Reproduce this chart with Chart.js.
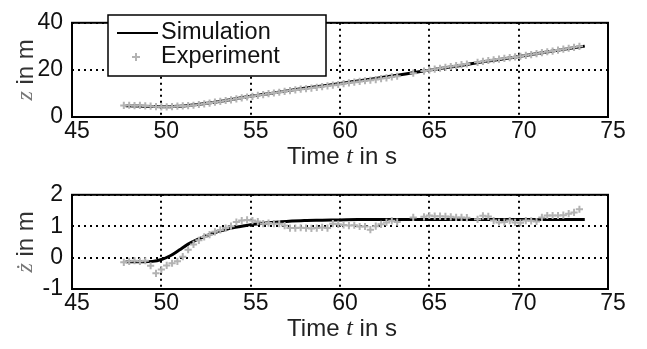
<!DOCTYPE html>
<html>
<head>
<meta charset="utf-8">
<script src="https://cdn.jsdelivr.net/npm/chart.js@4.4.0/dist/chart.umd.min.js"></script>
<style>
  body { margin: 0; background: #fff; }
  .panel { position: absolute; left: 0; width: 647px; height: 174px; }
</style>
</head>
<body>
<div class="panel" style="top:0"><canvas id="chart-z"></canvas></div>
<div class="panel" style="top:172px"><canvas id="chart-zdot"></canvas></div>
<script>
// Experiment samples
const expTime = [47.9, 48.2, 48.5, 48.8, 49.1, 49.4, 49.7, 50.0, 50.3, 50.6, 50.9, 51.2, 51.5, 51.8,
  52.1, 52.4, 52.7, 53.0, 53.3, 53.6, 53.9, 54.2, 54.5, 54.8, 55.1, 55.4, 55.7, 56.0, 56.3, 56.6,
  56.9, 57.2, 57.5, 57.8, 58.1, 58.4, 58.7, 59.0, 59.3, 59.6, 59.9, 60.2, 60.5, 60.8, 61.1, 61.4,
  61.7, 62.0, 62.3, 62.6, 62.9, 63.2, 64.1, 64.7, 65.0, 65.3, 65.6, 65.9, 66.2, 66.5, 66.8, 67.1,
  67.7, 68.0, 68.3, 68.6, 68.9, 69.2, 69.5, 69.8, 70.1, 70.4, 70.7, 71.0, 71.3, 71.6, 71.9, 72.2,
  72.5, 72.8, 73.1, 73.4];
const expZ = [4.9, 5.0, 4.8, 4.9, 4.7, 4.6, 4.4, 4.3, 4.3, 4.4, 4.6, 4.7, 4.8, 5.0,
  5.3, 5.6, 5.9, 6.3, 6.6, 7.0, 7.3, 7.7, 8.1, 8.5, 8.8, 9.2, 9.5, 9.9, 10.2, 10.5,
  10.9, 11.2, 11.5, 11.8, 12.0, 12.3, 12.6, 12.9, 13.2, 13.5, 13.8, 14.2, 14.5, 14.8, 15.1, 15.4,
  15.6, 15.9, 16.3, 16.6, 17.0, 17.3, 18.6, 19.5, 19.9, 20.3, 20.7, 21.1, 21.4, 21.8, 22.2, 22.5,
  23.2, 23.6, 24.0, 24.3, 24.6, 24.9, 25.2, 25.5, 25.8, 26.2, 26.5, 26.9, 27.3, 27.7, 28.0, 28.4,
  28.8, 29.2, 29.6, 30.0];
const expZdot = [-0.15, -0.12, -0.10, -0.12, -0.10, -0.26, -0.50, -0.38, -0.25, -0.18, -0.12, 0.03, 0.25, 0.42,
  0.55, 0.66, 0.73, 0.82, 0.88, 0.94, 1.00, 1.13, 1.18, 1.20, 1.18, 1.15, 1.08, 1.10, 1.08, 1.08,
  1.02, 0.94, 0.94, 0.95, 0.94, 0.93, 0.94, 0.96, 0.94, 1.08, 1.06, 1.04, 1.02, 1.03, 0.99, 0.99,
  0.89, 1.00, 1.06, 1.12, 1.17, 1.13, 1.28, 1.30, 1.34, 1.32, 1.32, 1.31, 1.30, 1.28, 1.28, 1.27,
  1.22, 1.33, 1.31, 1.18, 1.12, 1.13, 1.18, 1.12, 1.11, 1.18, 1.17, 1.15, 1.28, 1.34, 1.34, 1.34,
  1.35, 1.40, 1.44, 1.54];

// Simulation curve
const simTime = [48, 48.5, 49, 49.5, 50, 50.5, 51, 51.5, 52, 52.5, 53, 53.5, 54, 54.5, 55, 55.5,
  56, 57, 58, 59, 60, 61, 62, 63, 64, 65, 66, 67, 68, 69, 70, 71, 72, 73, 73.7];
const simZ = [4.8, 4.7, 4.6, 4.5, 4.4, 4.4, 4.6, 4.9, 5.3, 5.8, 6.3, 6.9, 7.5, 8.2, 8.8, 9.4,
  9.9, 11.1, 12.2, 13.2, 14.2, 15.3, 16.4, 17.5, 18.7, 19.9, 21.0, 22.2, 23.4, 24.5, 25.7, 26.9, 28.1, 29.3, 30.1];
const simZdot = [-0.13, -0.13, -0.13, -0.12, -0.06, 0.06, 0.24, 0.43, 0.57, 0.69, 0.80, 0.88, 0.95, 1.00, 1.05, 1.08,
  1.11, 1.15, 1.18, 1.19, 1.20, 1.21, 1.21, 1.21, 1.21, 1.21, 1.21, 1.21, 1.21, 1.21, 1.21, 1.21, 1.21, 1.21, 1.21];

// Tick labels
const timeTicks = [45, 50, 55, 60, 65, 70, 75];
const zTicks = [0, 20, 40];
const zdotTicks = [-1, 0, 1, 2];

const SANS = '"Liberation Sans", Arial, sans-serif';
const MATH = 'italic 24px "Liberation Serif", serif';
const EXP_COLOR = "#b3b3b3";

function pairs(xs, ys) {
  return xs.map((x, i) => ({ x, y: ys[i] }));
}

// draw a run of text pieces with different fonts, centred on (0,0)
function drawMixed(ctx, parts) {
  let total = 0;
  parts.forEach((p) => {
    ctx.font = p.font;
    p.w = ctx.measureText(p.text).width;
    total += p.w;
  });
  let x = -total / 2;
  ctx.textBaseline = "middle";
  ctx.textAlign = "left";
  parts.forEach((p) => {
    ctx.font = p.font;
    ctx.fillStyle = p.color;
    ctx.fillText(p.text, x, 0);
    x += p.w;
  });
}

const frame = {
  id: "frame",
  afterDraw(chart, args, opts) {
    const { ctx, chartArea: a } = chart;
    ctx.save();
    ctx.strokeStyle = "#000";
    ctx.lineWidth = 2;
    ctx.strokeRect(a.left, a.top, a.right - a.left, a.bottom - a.top);

    // x title
    ctx.translate((a.left + a.right) / 2 + 2, 157);
    drawMixed(ctx, [
      { text: "Time ", font: "24px " + SANS, color: "#222" },
      { text: "t", font: MATH, color: "#222" },
      { text: " in s", font: "24px " + SANS, color: "#222" },
    ]);
    ctx.restore();

    // y title
    ctx.save();
    ctx.translate(26, (a.top + a.bottom) / 2);
    ctx.rotate(-Math.PI / 2);
    drawMixed(ctx, [
      { text: opts.sym, font: MATH, color: "#777" },
      { text: " in m", font: "24px " + SANS, color: "#333" },
    ]);
    ctx.restore();

    if (opts.legend) {
      ctx.save();
      ctx.fillStyle = "#fff";
      ctx.fillRect(108, 15, 218, 61);
      ctx.strokeStyle = "#000";
      ctx.lineWidth = 1.5;
      ctx.strokeRect(108, 15, 218, 61);
      ctx.beginPath();
      ctx.moveTo(117, 33);
      ctx.lineTo(158, 33);
      ctx.lineWidth = 2;
      ctx.stroke();
      ctx.strokeStyle = EXP_COLOR;
      ctx.lineWidth = 2;
      ctx.beginPath();
      ctx.moveTo(132, 57);
      ctx.lineTo(140, 57);
      ctx.moveTo(136, 53);
      ctx.lineTo(136, 61);
      ctx.stroke();
      ctx.fillStyle = "#111";
      ctx.font = "23.5px " + SANS;
      ctx.textBaseline = "middle";
      ctx.fillText("Simulation", 161, 33);
      ctx.fillText("Experiment", 161, 57);
      ctx.restore();
    }
  },
};

function makeChart(id, expY, simY, yMin, yMax, yTicks, sym, legend) {
  const ctx = document.getElementById(id).getContext("2d");
  return new Chart(ctx, {
    type: "scatter",
    data: {
      datasets: [
        {
          label: "Experiment",
          data: pairs(expTime, expY),
          pointStyle: "cross",
          pointRadius: 3.6,
          borderWidth: 2,
          borderColor: EXP_COLOR,
          backgroundColor: EXP_COLOR,
          showLine: false,
          order: 0,
        },
        {
          label: "Simulation",
          data: pairs(simTime, simY),
          showLine: true,
          borderColor: "#000",
          borderWidth: 3,
          pointRadius: 0,
          cubicInterpolationMode: "monotone",
          order: 1,
        },
      ],
    },
    options: {
      responsive: true,
      maintainAspectRatio: false,
      animation: false,
      layout: { padding: { top: 13, right: 39, left: 0, bottom: 0 } },
      plugins: {
        legend: { display: false },
        tooltip: { enabled: false },
        frame: { sym, legend },
      },
      scales: {
        x: {
          type: "linear",
          min: 45,
          max: 75,
          afterBuildTicks: (s) => { s.ticks = timeTicks.map((v) => ({ value: v })); },
          afterFit: (s) => { s.height = 57; },
          ticks: { color: "#111", font: { family: SANS, size: 23 }, padding: 1, labelOffset: 5, maxRotation: 0 },
          grid: { color: "#000", lineWidth: 2, drawTicks: false },
          border: { display: false, dash: [2, 4] },
        },
        y: {
          min: yMin,
          max: yMax,
          afterBuildTicks: (s) => { s.ticks = yTicks.map((v) => ({ value: v })); },
          afterFit: (s) => { s.width = 72; },
          ticks: { color: "#111", font: { family: SANS, size: 23 }, padding: 9 },
          grid: { color: "#000", lineWidth: 2, drawTicks: false },
          border: { display: false, dash: [2, 4] },
        },
      },
    },
    plugins: [frame],
  });
}

makeChart("chart-z", expZ, simZ, 0, 40, zTicks, "z", true);
makeChart("chart-zdot", expZdot, simZdot, -1, 2, zdotTicks, "\u017C", false);
</script>
</body>
</html>
